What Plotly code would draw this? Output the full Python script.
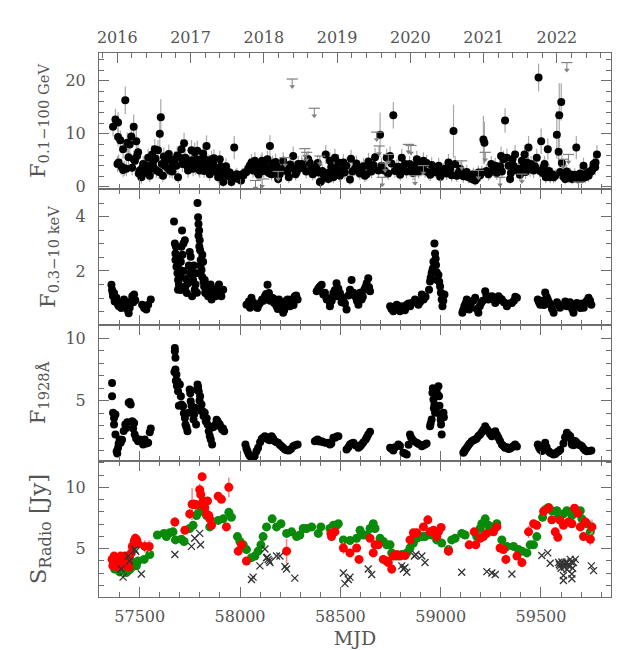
import plotly.graph_objects as go
from plotly.subplots import make_subplots

# ---------------- data ----------------
fermi_mjd = [
    57367, 57379, 57389, 57392, 57392, 57395, 57403, 57409, 57417, 57417,
    57423, 57428, 57433, 57438, 57444, 57450, 57458, 57462, 57470, 57470,
    57476, 57483, 57487, 57492, 57495, 57500, 57508, 57512, 57517, 57525,
    57533, 57538, 57542, 57550, 57555, 57562, 57566, 57570, 57575, 57579,
    57583, 57591, 57596, 57600, 57605, 57610, 57616, 57620, 57625, 57633,
    57640, 57645, 57650, 57658, 57662, 57666, 57675, 57683, 57687, 57691,
    57700, 57708, 57713, 57721, 57727, 57733, 57737, 57741, 57749, 57758,
    57762, 57766, 57770, 57774, 57778, 57783, 57787, 57791, 57795, 57799,
    57808, 57812, 57816, 57821, 57824, 57829, 57833, 57841, 57846, 57849,
    57853, 57858, 57862, 57866, 57870, 57874, 57882, 57891, 57896, 57899,
    57904, 57907, 57912, 57916, 57924, 57930, 57937, 57943, 57949, 57957,
    57964, 57971, 57977, 57984, 57991, 57999, 58005, 58011, 58017, 58024,
    58032, 58041, 58048, 58057, 58065, 58074, 58082, 58087, 58093, 58099,
    58105, 58110, 58118, 58124, 58130, 58137, 58143, 58149, 58157, 58162,
    58167, 58172, 58177, 58184, 58190, 58198, 58207, 58215, 58223, 58232,
    58237, 58243, 58250, 58265, 58270, 58277, 58283, 58290, 58297, 58307,
    58313, 58330, 58340, 58348, 58355, 58362, 58373, 58380, 58387, 58392,
    58398, 58403, 58410, 58415, 58423, 58427, 58435, 58440, 58448, 58455,
    58456, 58465, 58470, 58473, 58480, 58490, 58498, 58505, 58515, 58522,
    58530, 58548, 58553, 58560, 58573, 58580, 58590, 58597, 58606, 58615,
    58622, 58631, 58640, 58648, 58655, 58665, 58673, 58690, 58698, 58705,
    58719, 58731, 58738, 58748, 58755, 58764, 58772, 58781, 58790, 58798,
    58806, 58812, 58822, 58830, 58845, 58856, 58862, 58872, 58881, 58890,
    58898, 58906, 58914, 58922, 58930, 58939, 58948, 58955, 58964, 58972,
    58980, 58990, 58998, 59005, 59013, 59022, 59030, 59039, 59047, 59055,
    59064, 59072, 59080, 59088, 59097, 59105, 59113, 59122, 59130, 59138,
    59147, 59155, 59163, 59172, 59180, 59188, 59197, 59205, 59213, 59218,
    59228, 59238, 59245, 59252, 59262, 59272, 59280, 59288, 59296, 59301,
    59305, 59313, 59321, 59330, 59338, 59346, 59350, 59358, 59363, 59371,
    59380, 59388, 59395, 59405, 59412, 59418, 59423, 59430, 59438, 59445,
    59451, 59463, 59470, 59479, 59488, 59495, 59501, 59508, 59513, 59518,
    59524, 59534, 59540, 59546, 59556, 59563, 59571, 59579, 59588, 59591,
    59595, 59601, 59604, 59612, 59621, 59628, 59637, 59646, 59655, 59662,
    59668, 59676, 59680, 59687, 59695, 59701, 59705, 59712, 59721, 59728,
    59737, 59743, 59751, 59757, 59762, 59770, 59772, 59779,
]
fermi_flux = [
    11.3, 12.7, 4.3, 12.1, 9.4, 4.6, 8.8, 3.8, 7.1, 3.2,
    3.5, 16.3, 3.4, 8.3, 5.6, 8.0, 9.5, 3.6, 11.3, 5.2,
    4.9, 8.6, 5.8, 6.5, 2.5, 3.1, 1.8, 3.5, 4.3, 2.6,
    4.0, 3.1, 5.5, 2.1, 3.4, 6.1, 4.6, 3.6, 7.1, 5.3,
    3.1, 6.9, 2.8, 10.0, 13.1, 4.3, 2.1, 5.7, 4.0, 5.2,
    3.5, 6.2, 3.1, 4.9, 2.9, 4.0, 5.2, 4.0, 5.9, 1.8,
    5.5, 7.1, 4.3, 8.2, 5.5, 4.3, 3.9, 3.1, 4.9, 6.9,
    5.0, 3.4, 4.4, 6.5, 3.8, 5.2, 6.8, 4.3, 3.4, 3.1,
    5.2, 4.2, 6.3, 3.0, 5.2, 4.4, 7.7, 4.6, 3.6, 2.4,
    4.0, 5.2, 3.0, 4.3, 5.4, 3.4, 2.8, 1.8, 3.4, 5.2,
    3.9, 2.1, 2.5, 0.9, 2.7, 3.9, 2.9, 2.0, 2.7, 0.9,
    1.6, 7.4, 2.1, 2.4, 1.5, 1.8, 1.2, 2.4, 2.2, 2.7,
    2.8, 3.4, 4.0, 4.6, 3.1, 4.9, 3.6, 2.7, 2.3, 4.0,
    4.6, 4.9, 3.0, 4.3, 3.6, 5.2, 2.6, 7.7, 2.4, 4.4,
    3.4, 2.7, 4.7, 3.9, 1.5, 2.4, 3.2, 4.9, 3.6, 3.1,
    2.8, 1.8, 4.2, 5.8, 3.4, 2.4, 2.9, 4.3, 3.5, 4.3,
    3.9, 2.9, 5.2, 4.5, 3.6, 2.4, 2.7, 3.4, 4.5, 2.7,
    0.9, 1.0, 3.0, 2.4, 1.8, 6.1, 2.6, 1.5, 4.9, 3.8,
    2.1, 1.8, 2.9, 5.5, 3.4, 4.6, 2.1, 3.2, 4.6, 2.7,
    4.0, 1.4, 5.3, 2.9, 3.4, 4.4, 3.1, 2.5, 3.4, 3.9,
    2.1, 2.4, 4.8, 3.7, 2.9, 4.1, 5.6, 3.1, 9.8, 4.0,
    3.1, 5.5, 2.5, 5.8, 4.4, 13.5, 3.0, 3.7, 3.8, 2.3,
    5.5, 3.5, 4.3, 2.9, 4.3, 3.4, 2.6, 4.0, 5.2, 2.9,
    4.2, 3.4, 4.9, 3.0, 4.5, 2.7, 2.3, 4.1, 3.4, 3.1,
    2.7, 4.0, 1.9, 2.4, 3.1, 3.4, 2.5, 4.6, 3.3, 2.2,
    10.5, 4.3, 2.1, 2.6, 3.4, 2.7, 2.0, 2.4, 2.8, 1.8,
    1.9, 1.5, 2.4, 1.2, 1.6, 2.7, 2.2, 2.7, 8.9, 8.3,
    3.0, 2.4, 2.7, 4.3, 3.3, 4.0, 2.6, 3.1, 3.9, 5.8,
    2.9, 5.2, 12.5, 5.5, 4.0, 1.5, 2.6, 5.2, 4.0, 6.1,
    3.1, 3.4, 2.3, 4.9, 3.8, 6.1, 2.8, 4.6, 7.4, 3.3,
    4.3, 3.1, 3.9, 5.5, 20.6, 3.0, 8.6, 2.6, 3.7, 4.3,
    1.8, 7.1, 3.0, 1.8, 2.4, 1.8, 2.1, 9.8, 6.6, 13.5,
    2.8, 16.0, 4.5, 1.9, 1.5, 2.9, 1.8, 2.4, 1.5, 1.8,
    2.3, 7.4, 1.7, 1.5, 2.5, 1.8, 1.6, 4.0, 1.8, 2.6,
    2.1, 2.9, 2.9, 3.3, 4.3, 3.7, 4.6, 6.1,
]
fermi_err = [
    1.8, 2.0, 1.5, 2.0, 1.8, 1.5, 1.8, 1.5, 1.8, 1.4,
    1.4, 2.6, 1.4, 2.0, 1.6, 2.0, 2.2, 1.4, 2.3, 1.6,
    1.5, 2.2, 1.6, 1.8, 1.2, 1.4, 1.2, 1.4, 1.5, 1.3,
    1.5, 1.4, 1.7, 1.2, 1.4, 1.8, 1.6, 1.4, 1.9, 1.7,
    1.4, 1.9, 1.3, 2.6, 3.4, 1.5, 1.2, 1.7, 1.5, 1.6,
    1.4, 1.8, 1.4, 1.6, 1.3, 1.5, 1.6, 1.5, 1.7, 1.1,
    1.7, 1.9, 1.5, 2.0, 1.6, 1.5, 1.5, 1.4, 1.6, 1.9,
    1.6, 1.4, 1.5, 1.8, 1.5, 1.6, 1.9, 1.5, 1.4, 1.4,
    1.6, 1.5, 1.8, 1.3, 1.6, 1.5, 2.0, 1.6, 1.4, 1.3,
    1.5, 1.6, 1.3, 1.5, 1.7, 1.4, 1.3, 1.1, 1.4, 1.6,
    1.5, 1.2, 1.2, 0.9, 1.3, 1.5, 1.3, 1.2, 1.3, 0.9,
    1.1, 2.2, 1.2, 1.2, 1.0, 1.1, 1.0, 1.2, 1.2, 1.3,
    1.3, 1.4, 1.5, 1.6, 1.4, 1.6, 1.4, 1.3, 1.2, 1.5,
    1.6, 1.6, 1.3, 1.5, 1.4, 1.6, 1.3, 2.0, 1.2, 1.5,
    1.4, 1.3, 1.6, 1.5, 1.0, 1.2, 1.4, 1.6, 1.4, 1.4,
    1.3, 1.1, 1.5, 1.8, 1.4, 1.2, 1.3, 1.5, 1.4, 1.5,
    1.5, 1.3, 1.6, 1.5, 1.4, 1.2, 1.3, 1.4, 1.5, 1.3,
    0.9, 0.9, 1.3, 1.2, 1.1, 1.8, 1.3, 1.0, 1.6, 1.5,
    1.2, 1.1, 1.3, 1.7, 1.4, 1.6, 1.2, 1.4, 1.6, 1.3,
    1.5, 1.0, 1.7, 1.3, 1.4, 1.5, 1.4, 1.2, 1.4, 1.5,
    1.2, 1.2, 1.6, 1.5, 1.3, 1.5, 1.7, 1.4, 4.2, 1.5,
    1.4, 1.7, 1.2, 1.8, 1.5, 2.5, 1.3, 1.5, 1.5, 1.2,
    1.7, 1.4, 1.5, 1.3, 1.5, 1.4, 1.3, 1.5, 1.6, 1.3,
    1.5, 1.4, 1.6, 1.3, 1.5, 1.3, 1.2, 1.5, 1.4, 1.4,
    1.3, 1.5, 1.1, 1.2, 1.4, 1.4, 1.2, 1.6, 1.4, 1.2,
    5.0, 1.5, 1.2, 1.3, 1.4, 1.3, 1.2, 1.2, 1.3, 1.1,
    1.1, 1.0, 1.2, 1.0, 1.0, 1.3, 1.2, 1.3, 4.5, 4.0,
    1.3, 1.2, 1.3, 1.5, 1.4, 1.5, 1.3, 1.4, 1.5, 1.8,
    1.3, 1.6, 2.3, 1.7, 1.5, 1.0, 1.3, 1.6, 1.5, 1.8,
    1.4, 1.4, 1.2, 1.6, 1.5, 1.8, 1.3, 1.6, 2.2, 1.4,
    1.5, 1.4, 1.5, 1.7, 2.6, 1.3, 2.4, 1.3, 1.5, 1.5,
    1.1, 2.0, 1.3, 1.1, 1.2, 1.1, 1.2, 4.5, 2.5, 6.0,
    1.3, 3.5, 1.5, 1.1, 1.0, 1.3, 1.1, 1.2, 1.0, 1.1,
    1.2, 2.2, 1.1, 1.0, 1.2, 1.1, 1.0, 1.5, 1.1, 1.3,
    1.2, 1.3, 1.3, 1.4, 1.5, 1.5, 1.6, 1.8,
]

# Fermi upper limits
ul_mjd = [58077, 58110, 58190, 58224, 58260, 58323, 58332, 58370, 58398, 58681,
          58693, 58709, 58723, 58739, 58839, 58852, 58872, 58914, 59105, 59188,
          59222, 59296, 59405, 59612, 59629, 59637, 59687]
ul_flux = [1.2, 1.5, 2.9, 5.5, 20.3, 7.2, 6.5, 14.8, 5.8, 10.3,
           7.7, 1.8, 4.5, 6.1, 8.0, 7.8, 2.1, 4.0, 4.9, 3.1,
           6.5, 1.8, 2.4, 5.2, 23.4, 6.1, 0.9]

# X-ray 0.3-10 keV
xray_mjd = [
    57359, 57362, 57367, 57372, 57375, 57384, 57392, 57400, 57408, 57422,
    57428, 57438, 57445, 57455, 57463, 57472, 57478, 57512, 57522, 57533,
    57542, 57555, 57365, 57380, 57396, 57415, 57450, 57468,
    57671, 57675, 57678, 57678, 57683, 57688, 57691, 57691, 57700, 57705,
    57708, 57711, 57718, 57725, 57728, 57735, 57741, 57749, 57754, 57758,
    57761, 57766, 57774, 57781, 57788, 57791, 57793, 57796, 57799, 57801,
    57804, 57808, 57811, 57816, 57821, 57824, 57829, 57836, 57841, 57849,
    57858, 57866, 57878, 57891, 57899, 57907, 57916,
    57680, 57685, 57690, 57695, 57702, 57706, 57713, 57720, 57730, 57745,
    57752, 57770, 57778, 57785, 57793, 57797, 57803, 57812, 57818, 57826,
    57845, 57853, 57870, 57884, 57895, 57903,
    58032, 58044, 58057, 58074, 58087, 58099, 58110, 58124, 58137, 58144,
    58157, 58170, 58182, 58194, 58207, 58215, 58224, 58237, 58249, 58261,
    58273, 58287, 58050, 58065, 58092, 58117, 58130, 58150, 58165, 58188,
    58200, 58220, 58230, 58255, 58267, 58280,
    58382, 58398, 58407, 58415, 58431, 58432, 58448, 58448, 58465, 58481,
    58481, 58498, 58515, 58531, 58548, 58556, 58573, 58590, 58606, 58619,
    58631, 58639, 58648, 58390, 58423, 58440, 58457, 58473, 58490, 58506,
    58523, 58540, 58565, 58582, 58598, 58612, 58625, 58643,
    58748, 58764, 58781, 58797, 58814, 58831, 58856, 58872, 58889, 58906,
    58755, 58772, 58789, 58805, 58822, 58840, 58848, 58864, 58880, 58897,
    58915, 58925,
    58942, 58947, 58955, 58959, 58964, 58969, 58972, 58977, 58982, 58989,
    58997, 59005, 59009, 59019, 58950, 58962, 58975, 58980, 58993, 59001,
    59013,
    59108, 59118, 59130, 59142, 59155, 59172, 59188, 59202, 59222, 59238,
    59255, 59272, 59288, 59305, 59330, 59355, 59380, 59112, 59124, 59136,
    59148, 59163, 59180, 59195, 59210, 59228, 59246, 59262, 59280, 59296,
    59315, 59340, 59365, 59372,
    59484, 59496, 59521, 59534, 59546, 59563, 59588, 59621, 59637, 59662,
    59679, 59696, 59721, 59737, 59751, 59490, 59508, 59515, 59528, 59540,
    59555, 59580, 59595, 59628, 59645, 59655, 59670, 59688, 59705, 59713,
    59729, 59745,
]
xray_flux = [
    1.49, 1.31, 1.07, 1.19, 0.88, 1.01, 0.76, 0.82, 0.64, 0.95,
    0.76, 0.58, 0.44, 0.88, 1.07, 1.13, 0.92, 0.76, 0.64, 0.58,
    0.76, 0.95, 1.20, 0.95, 0.70, 0.75, 0.65, 0.85,
    3.82, 3.01, 2.64, 2.40, 2.16, 1.92, 1.67, 1.31, 2.04, 2.34,
    2.89, 3.49, 3.01, 3.13, 1.43, 1.19, 1.55, 2.70, 2.52, 2.04,
    1.07, 1.67, 1.31, 1.92, 4.50, 3.98, 3.73, 3.49, 3.13, 2.76,
    2.40, 2.04, 1.79, 2.34, 1.43, 1.67, 1.19, 1.43, 1.07, 1.31,
    0.95, 1.31, 1.07, 1.43, 1.25, 1.07, 1.31,
    2.90, 2.50, 2.20, 1.50, 1.80, 1.30, 2.60, 2.00, 1.70, 2.20,
    1.90, 2.20, 1.50, 1.20, 3.30, 2.90, 2.20, 2.60, 1.60, 1.20,
    1.20, 1.50, 1.10, 1.20, 1.50, 1.10,
    0.76, 0.88, 1.01, 0.70, 0.64, 0.82, 0.95, 1.07, 1.49, 1.19,
    1.01, 0.82, 0.70, 0.95, 0.64, 0.46, 0.76, 0.95, 0.70, 0.82,
    1.07, 0.95, 0.65, 0.85, 0.75, 0.90, 1.15, 0.90, 1.00, 0.60,
    0.85, 0.55, 0.90, 0.95, 0.75, 1.10,
    1.25, 1.43, 1.49, 1.13, 1.01, 0.95, 0.82, 0.70, 1.19, 1.07,
    1.55, 1.19, 1.01, 0.58, 1.31, 1.67, 1.07, 0.76, 0.95, 1.31,
    1.55, 1.73, 1.25, 1.35, 1.20, 1.00, 0.90, 1.30, 1.35, 0.85,
    0.80, 1.10, 1.20, 0.90, 1.20, 1.05, 1.40, 1.40,
    0.70, 0.52, 0.76, 0.52, 0.64, 0.76, 0.82, 0.95, 0.76, 1.13,
    0.60, 0.65, 0.60, 0.70, 0.55, 0.80, 0.70, 0.85, 0.90, 0.85,
    0.95, 1.05,
    1.31, 1.61, 1.92, 2.04, 2.34, 3.01, 2.64, 2.22, 1.67, 1.85,
    1.43, 0.95, 0.70, 1.13, 1.75, 2.10, 2.45, 1.95, 1.60, 1.20,
    0.90,
    0.46, 0.70, 0.95, 0.58, 0.88, 1.01, 0.46, 0.82, 1.25, 0.95,
    1.07, 0.82, 1.07, 0.95, 0.70, 0.82, 1.01, 0.55, 0.80, 0.65,
    0.75, 0.90, 0.60, 0.70, 0.90, 1.10, 1.00, 0.95, 0.90, 1.00,
    0.85, 0.80, 0.90, 1.05,
    0.95, 0.76, 1.21, 0.95, 0.76, 0.46, 0.76, 0.88, 0.76, 0.46,
    0.82, 0.64, 0.82, 1.01, 0.76, 0.85, 0.90, 0.75, 1.05, 0.85,
    0.60, 0.85, 0.65, 0.70, 0.85, 0.60, 0.75, 0.70, 0.80, 0.65,
    0.90, 0.90,
]

# UV 1928 A
uv_mjd = [
    57362, 57362, 57367, 57372, 57372, 57379, 57379, 57385, 57392, 57400,
    57405, 57428, 57433, 57445, 57455, 57463, 57472, 57475, 57492, 57500,
    57517, 57525, 57542, 57555, 57388, 57395, 57412, 57420, 57438, 57450,
    57467, 57482, 57508, 57533, 57550,
    57675, 57675, 57678, 57678, 57683, 57688, 57691, 57700, 57705, 57708,
    57716, 57725, 57728, 57738, 57744, 57749, 57754, 57761, 57768, 57774,
    57781, 57788, 57794, 57801, 57808, 57814, 57824, 57829, 57838, 57844,
    57854, 57861, 57878, 57888, 57899, 57911, 57921,
    57673, 57680, 57685, 57695, 57712, 57720, 57733, 57752, 57758, 57771,
    57785, 57791, 57798, 57805, 57818, 57834, 57849, 57866, 57872, 57883,
    57894, 57905, 57915,
    58027, 58037, 58049, 58065, 58082, 58090, 58115, 58124, 58140, 58157,
    58174, 58190, 58207, 58224, 58243, 58265, 58287, 58032, 58043, 58057,
    58073, 58100, 58108, 58132, 58148, 58165, 58182, 58198, 58215, 58233,
    58254, 58275,
    58373, 58387, 58406, 58426, 58440, 58448, 58465, 58473, 58490, 58531,
    58548, 58565, 58590, 58606, 58626, 58639, 58648, 58380, 58395, 58415,
    58455, 58482, 58540, 58556, 58575, 58598, 58615, 58632,
    58748, 58764, 58789, 58814, 58831, 58847, 58859, 58881, 58906, 58922,
    58756, 58772, 58797, 58822, 58840, 58852, 58866, 58890, 58914, 58930,
    58947, 58955, 58959, 58964, 58969, 58972, 58980, 58989, 58992, 58997,
    59002, 59005, 59014, 58950, 58961, 58966, 58976, 58985, 58994, 59000,
    59008, 59016,
    59113, 59130, 59155, 59172, 59197, 59222, 59238, 59255, 59272, 59288,
    59305, 59321, 59346, 59371, 59118, 59122, 59138, 59145, 59163, 59180,
    59188, 59205, 59213, 59230, 59246, 59263, 59280, 59296, 59313, 59330,
    59338, 59355, 59363, 59380,
    59484, 59496, 59521, 59538, 59563, 59588, 59629, 59646, 59654, 59679,
    59704, 59729, 59751, 59490, 59505, 59512, 59528, 59546, 59555, 59571,
    59580, 59596, 59612, 59620, 59637, 59650, 59662, 59670, 59688, 59696,
    59712, 59720, 59740,
]
uv_flux = [
    6.43, 5.37, 4.04, 3.64, 3.11, 3.91, 2.31, 0.98, 1.25, 1.91,
    1.65, 3.11, 2.84, 4.84, 4.70, 3.38, 3.24, 2.31, 1.78, 1.91,
    1.52, 1.91, 1.65, 2.79, 0.80, 1.60, 1.90, 2.60, 3.30, 4.90,
    2.80, 2.00, 1.75, 1.60, 2.50,
    9.22, 8.96, 8.43, 7.50, 7.10, 6.57, 5.77, 6.30, 5.37, 4.71,
    4.57, 3.64, 3.11, 2.58, 4.04, 5.90, 4.97, 4.17, 3.51, 4.44,
    3.11, 6.30, 5.77, 5.37, 4.71, 4.17, 4.04, 3.38, 3.11, 2.58,
    1.91, 1.52, 3.11, 3.38, 3.11, 2.71, 2.58,
    7.30, 6.60, 6.20, 4.60, 4.60, 4.00, 2.90, 5.60, 4.60, 3.90,
    5.90, 6.10, 5.00, 4.20, 3.80, 3.60, 2.20, 2.90, 3.00, 3.50,
    3.20, 2.90, 2.80,
    1.52, 0.98, 0.59, 0.45, 0.98, 1.25, 2.05, 2.18, 1.91, 2.18,
    1.78, 1.65, 1.38, 1.12, 1.04, 1.38, 1.52, 1.20, 0.75, 0.50,
    0.60, 1.70, 1.95, 2.10, 1.85, 2.00, 1.70, 1.50, 1.25, 1.05,
    1.15, 1.45,
    1.78, 1.91, 1.78, 1.65, 1.65, 1.52, 2.05, 2.05, 2.18, 1.12,
    1.52, 1.65, 1.25, 1.52, 1.91, 2.31, 2.53, 1.85, 1.75, 1.70,
    1.60, 2.15, 1.30, 1.60, 1.45, 1.35, 1.70, 2.10,
    1.25, 1.04, 1.52, 0.85, 0.72, 2.31, 1.91, 1.65, 1.38, 1.52,
    1.15, 1.30, 1.40, 0.80, 1.50, 2.10, 1.80, 1.55, 1.45, 1.60,
    2.98, 3.51, 5.64, 5.10, 4.71, 4.04, 5.90, 6.17, 5.37, 3.91,
    3.11, 2.31, 4.04, 3.20, 6.00, 4.40, 4.30, 5.50, 4.60, 3.50,
    3.90, 3.70,
    0.85, 1.25, 1.78, 1.91, 2.31, 2.98, 2.58, 2.18, 2.58, 2.05,
    1.52, 1.25, 1.20, 1.52, 0.95, 1.10, 1.45, 1.60, 1.85, 2.00,
    2.20, 2.50, 2.70, 2.75, 2.35, 2.40, 2.30, 1.80, 1.40, 1.30,
    1.15, 1.30, 1.40, 1.35,
    1.52, 1.12, 1.65, 0.98, 0.72, 0.98, 2.45, 2.18, 1.52, 1.65,
    1.38, 0.98, 1.04, 1.30, 1.00, 1.40, 1.30, 0.85, 0.80, 0.75,
    0.90, 1.10, 1.60, 2.10, 2.30, 1.90, 1.45, 1.80, 1.50, 1.45,
    1.20, 1.05, 1.00,
]

# Radio: red series (with errors), green series, black crosses
red_mjd = [
    57362, 57366, 57372, 57379, 57382, 57389, 57392, 57395, 57400, 57405,
    57412, 57416, 57422, 57428, 57433, 57437, 57442, 57446, 57450, 57458,
    57463, 57472, 57478, 57485, 57492, 57525, 57547, 57675, 57725, 57749,
    57761, 57771, 57783, 57799, 57804, 57811, 57816, 57824, 57833, 57838,
    57844, 57849, 57858, 57891, 57907, 57932, 57944, 57991, 58007, 58032,
    58232, 58453, 58456, 58473, 58515, 58548, 58581, 58593, 58648, 58664,
    58673, 58689, 58714, 58731, 58739, 58756, 58764, 58781, 58797, 58822,
    58847, 58864, 58881, 58914, 58936, 58947, 58964, 58980, 58989, 59002,
    59039, 59142, 59167, 59175, 59197, 59213, 59230, 59263, 59280, 59296,
    59313, 59325, 59380, 59405, 59438, 59463, 59479, 59513, 59538, 59554,
    59571, 59584, 59596, 59612, 59637, 59654, 59667, 59684, 59696, 59712,
    59721, 59746, 59754,
]
red_flux = [
    4.12, 3.60, 4.39, 3.86, 4.30, 4.26, 3.50, 3.99, 4.00, 4.39,
    3.91, 3.70, 4.12, 4.39, 3.59, 4.20, 3.86, 3.50, 4.39, 4.65,
    5.18, 5.58, 5.84, 5.71, 5.39, 5.18, 5.18, 7.17, 6.50, 7.83,
    8.62, 8.62, 8.57, 9.81, 9.42, 10.87, 8.89, 8.36, 7.83, 8.89,
    7.70, 7.43, 6.90, 9.28, 9.02, 6.77, 10.00, 4.79, 5.31, 3.99,
    4.79, 6.24, 5.98, 6.37, 5.05, 4.65, 5.05, 4.12, 5.84, 4.65,
    5.31, 5.31, 4.12, 3.99, 3.86, 3.33, 4.39, 4.52, 4.39, 4.44,
    5.71, 6.29, 6.29, 6.77, 7.35, 6.37, 6.50, 5.98, 6.37, 6.72,
    4.79, 5.31, 6.37, 5.31, 5.84, 5.98, 6.24, 6.37, 6.77, 5.05,
    4.92, 4.12, 4.39, 3.86, 6.37, 7.03, 6.90, 8.04, 8.30, 7.35,
    6.37, 5.92, 7.30, 6.90, 7.17, 7.03, 8.30, 7.88, 6.77, 5.98,
    7.17, 5.76, 6.77,
]
red_err = [
    0.2, 0.2, 0.2, 0.2, 0.2, 0.2, 0.2, 0.2, 0.2, 0.2,
    0.2, 0.2, 0.2, 0.2, 0.2, 0.2, 0.2, 0.2, 0.3, 0.3,
    0.3, 0.3, 0.4, 0.3, 0.3, 0.5, 0.5, 0.4, 0.3, 0.4,
    1.3, 0.4, 0.4, 0.5, 0.4, 0.3, 0.4, 0.3, 0.3, 0.3,
    0.3, 0.3, 0.3, 0.3, 0.3, 0.3, 0.8, 0.3, 0.3, 0.3,
    1.0, 0.4, 0.3, 0.3, 0.5, 0.3, 0.3, 0.3, 0.3, 0.3,
    0.3, 0.3, 0.3, 0.3, 0.3, 0.4, 0.3, 0.3, 0.3, 0.3,
    0.3, 0.3, 0.3, 0.3, 0.3, 0.3, 0.3, 0.3, 0.3, 0.3,
    0.4, 0.3, 0.3, 0.3, 0.3, 0.3, 0.3, 0.3, 0.3, 0.3,
    0.3, 0.4, 0.3, 0.3, 0.5, 0.3, 0.3, 0.4, 0.3, 0.3,
    0.3, 0.3, 0.3, 0.3, 0.3, 0.3, 0.3, 0.3, 0.3, 0.3,
    0.3, 0.5, 0.6,
]
green_mjd = [
    57375, 57392, 57408, 57425, 57442, 57458, 57475, 57492, 57522, 57550,
    57588, 57621, 57633, 57650, 57666, 57678, 57708, 57721, 57749, 57766,
    57783, 57794, 57808, 57821, 57833, 57849, 57891, 57916, 57944, 57957,
    57987, 57999, 58016, 58032, 58057, 58074, 58090, 58104, 58115, 58132,
    58160, 58182, 58204, 58232, 58257, 58282, 58298, 58315, 58332, 58357,
    58390, 58403, 58448, 58456, 58465, 58481, 58490, 58515, 58548, 58581,
    58598, 58614, 58631, 58648, 58664, 58673, 58698, 58714, 58731, 58748,
    58756, 58781, 58806, 58831, 58847, 58864, 58881, 58906, 58922, 58955,
    58980, 59005, 59039, 59055, 59072, 59105, 59122, 59180, 59197, 59205,
    59222, 59238, 59255, 59280, 59305, 59330, 59363, 59388, 59405, 59430,
    59446, 59463, 59479, 59508, 59524, 59538, 59554, 59579, 59588, 59612,
    59629, 59654, 59671, 59696, 59704, 59729, 59746,
    57383, 57400, 57417, 57433, 57450, 57466, 57483,
]
green_flux = [
    3.33, 3.28, 3.20, 3.33, 3.20, 3.46, 3.86, 3.99, 4.12, 4.52,
    6.11, 6.24, 5.98, 6.29, 6.37, 5.71, 5.76, 5.58, 6.64, 6.90,
    7.70, 7.96, 8.22, 8.36, 7.70, 6.77, 7.30, 7.43, 7.96, 7.56,
    5.98, 5.58, 5.31, 4.92, 4.26, 4.39, 4.79, 5.31, 5.98, 6.77,
    7.43, 6.77, 7.03, 6.24, 6.37, 5.98, 6.11, 6.64, 6.64, 6.77,
    6.24, 6.77, 6.64, 6.50, 6.90, 6.90, 7.03, 5.71, 5.66, 5.84,
    6.50, 6.11, 6.11, 6.64, 7.03, 6.64, 5.84, 5.58, 5.31, 5.31,
    4.65, 4.39, 4.52, 4.65, 5.05, 5.45, 5.84, 5.98, 5.98, 6.11,
    5.71, 5.45, 4.92, 5.71, 5.84, 6.24, 6.11, 5.98, 6.64, 7.03,
    7.43, 6.90, 6.77, 7.03, 5.71, 5.18, 5.18, 4.92, 4.79, 4.65,
    5.31, 5.31, 5.98, 7.56, 8.22, 8.36, 8.09, 8.09, 7.70, 7.83,
    8.09, 7.70, 7.96, 8.09, 7.43, 7.03, 6.37,
    3.45, 3.10, 3.40, 3.05, 3.30, 3.70, 3.60,
]
cross_mjd = [
    57408, 57417, 57442, 57450, 57475, 57480, 57508, 57675, 57758, 57774,
    57799, 57803, 58057, 58065, 58099, 58124, 58132, 58140, 58149, 58182,
    58199, 58224, 58232, 58273, 58515, 58523, 58540, 58548, 58639, 58656,
    58806, 58814, 58822, 58831, 58869, 58876, 58906, 58922, 59105, 59230,
    59255, 59272, 59355, 59504, 59534, 59546, 59588, 59596, 59604, 59612,
    59612, 59621, 59637, 59646, 59654, 59654, 59662, 59671, 59751, 59762,
    59592, 59600, 59608, 59616, 59625, 59630, 59641, 59650, 59658, 58135,
    58145,
]
cross_flux = [
    3.33, 2.67, 4.39, 3.99, 4.92, 4.79, 2.93, 4.52, 5.18, 5.84,
    6.24, 5.31, 2.48, 2.67, 3.59, 4.97, 4.26, 4.12, 3.86, 4.39,
    4.39, 3.54, 3.33, 2.59, 3.01, 2.14, 2.48, 2.67, 3.33, 2.88,
    3.59, 3.33, 3.46, 3.07, 4.39, 4.52, 4.39, 3.86, 3.07, 3.12,
    3.01, 2.88, 2.93, 4.44, 4.65, 3.81, 3.86, 3.59, 3.91, 2.80,
    2.40, 3.72, 3.59, 4.12, 2.93, 2.54, 3.86, 4.12, 3.59, 3.20,
    3.70, 3.40, 3.80, 3.50, 3.90, 3.30, 3.70, 3.90, 3.40, 4.30,
    4.00,
]

# ---------------- style ----------------
AX = '#6e6e6e'
TXT = '#555555'
ULC = '#808080'
FONT = 'DejaVu Serif'
XR = [57297, 59849]
MJD_2016 = 57388          # MJD of 2016 Jan 1, for the calendar axis on top
YEAR_DAYS = 365.25
UL_SHAFT = 1.4            # drawn length of the upper-limit arrow, in flux units

fig = make_subplots(rows=4, cols=1, shared_xaxes=True, vertical_spacing=0)

fig.add_trace(go.Scatter(
    x=fermi_mjd, y=fermi_flux, mode='markers',
    marker=dict(color='black', size=8),
    error_y=dict(type='data', array=fermi_err, color='#a8a8a8', thickness=1.2, width=0),
    showlegend=False, hoverinfo='skip'), row=1, col=1)
# upper limits: bar + shaft + arrowhead
fig.add_trace(go.Scatter(
    x=ul_mjd, y=ul_flux, mode='markers',
    marker=dict(symbol='line-ew-open', size=8, color=ULC, line=dict(color=ULC, width=1.2)),
    error_y=dict(type='data', symmetric=False, array=[0] * len(ul_flux),
                 arrayminus=[UL_SHAFT] * len(ul_flux), color=ULC, thickness=1, width=0),
    showlegend=False, hoverinfo='skip'), row=1, col=1)
fig.add_trace(go.Scatter(
    x=ul_mjd, y=[v - UL_SHAFT for v in ul_flux], mode='markers',
    marker=dict(symbol='triangle-down', size=5, color=ULC),
    showlegend=False, hoverinfo='skip'), row=1, col=1)

fig.add_trace(go.Scatter(
    x=xray_mjd, y=xray_flux, mode='markers', marker=dict(color='black', size=8),
    showlegend=False, hoverinfo='skip'), row=2, col=1)

fig.add_trace(go.Scatter(
    x=uv_mjd, y=uv_flux, mode='markers', marker=dict(color='black', size=8),
    showlegend=False, hoverinfo='skip'), row=3, col=1)

fig.add_trace(go.Scatter(
    x=green_mjd, y=green_flux, mode='markers', marker=dict(color='#0a8a0a', size=9),
    showlegend=False, hoverinfo='skip'), row=4, col=1)
fig.add_trace(go.Scatter(
    x=red_mjd, y=red_flux, mode='markers', marker=dict(color='#ff0000', size=9),
    error_y=dict(type='data', array=red_err, color='#ff8080', thickness=1.5, width=0),
    showlegend=False, hoverinfo='skip'), row=4, col=1)
fig.add_trace(go.Scatter(
    x=cross_mjd, y=cross_flux, mode='markers',
    marker=dict(symbol='x-thin-open', size=7, color='#333333',
                line=dict(color='#333333', width=1.3)),
    showlegend=False, hoverinfo='skip'), row=4, col=1)

tickfont = dict(family=FONT, size=16, color=TXT)
xcommon = dict(range=XR, showline=True, linecolor=AX, linewidth=1,
               ticks='inside', ticklen=10, tickwidth=1, tickcolor=AX,
               tick0=57500, dtick=500, tickformat='d',
               minor=dict(ticks='inside', ticklen=5, tickcolor=AX, tick0=57500, dtick=100),
               showgrid=False, zeroline=False, tickfont=tickfont)
for r in range(1, 5):
    fig.update_xaxes(xcommon, row=r, col=1)
fig.update_xaxes(mirror=True, row=1, col=1)
for r in (2, 3, 4):
    fig.update_xaxes(mirror='ticks', row=r, col=1)
fig.update_xaxes(ticklabelstandoff=5,
                 title=dict(text='MJD', font=dict(family=FONT, size=19, color=TXT), standoff=6),
                 row=4, col=1)

ycommon = dict(showline=True, linecolor=AX, linewidth=1, mirror='ticks',
               ticks='inside', ticklen=10, tickwidth=1, tickcolor=AX,
               showgrid=False, zeroline=False, tickfont=tickfont, ticklabelstandoff=9)
ytitle_font = dict(family=FONT, size=21, color=TXT)
fig.update_yaxes(ycommon, range=[-0.4, 25.2], tick0=0, dtick=10,
                 minor=dict(ticks='inside', ticklen=5, tickcolor=AX, tick0=0, dtick=2),
                 title=dict(text='F<sub>0.1−100 GeV</sub>', font=ytitle_font, standoff=14),
                 row=1, col=1)
fig.update_yaxes(ycommon, range=[0.01, 5.02], tick0=0, dtick=2,
                 minor=dict(ticks='inside', ticklen=5, tickcolor=AX, tick0=0, dtick=0.5),
                 title=dict(text='F<sub>0.3−10 keV</sub>', font=ytitle_font, standoff=14),
                 row=2, col=1)
fig.update_yaxes(ycommon, range=[0.2, 11.05], tick0=0, dtick=5,
                 minor=dict(ticks='inside', ticklen=5, tickcolor=AX, tick0=0, dtick=1),
                 title=dict(text='F<sub>1928Å</sub>', font=ytitle_font, standoff=14),
                 row=3, col=1)
fig.update_yaxes(ycommon, range=[1.05, 12.15], tick0=0, dtick=5,
                 minor=dict(ticks='inside', ticklen=5, tickcolor=AX, tick0=0, dtick=1),
                 title=dict(text='S<sub>Radio</sub> [Jy]', font=dict(family=FONT, size=23, color=TXT), standoff=12),
                 row=4, col=1)

# calendar-year axis along the top of the first panel
yr_range = [2016 + (XR[0] - MJD_2016) / YEAR_DAYS, 2016 + (XR[1] - MJD_2016) / YEAR_DAYS]
fig.update_layout(xaxis5=dict(
    overlaying='x', anchor='y', side='top', range=yr_range,
    tick0=2016, dtick=1, tickformat='d',
    ticks='inside', ticklen=10, tickwidth=1, tickcolor=AX,
    minor=dict(ticks='inside', ticklen=5, tickcolor=AX, tick0=2016, dtick=0.2),
    showline=True, linecolor=AX, linewidth=1, showgrid=False, zeroline=False,
    tickfont=dict(family=FONT, size=16, color=TXT), ticklabelstandoff=3))
fig.add_trace(go.Scatter(x=[2016, 2017], y=[-10, -10], xaxis='x5', yaxis='y',
                         mode='markers', marker=dict(opacity=0),
                         showlegend=False, hoverinfo='skip'))

fig.update_layout(width=628, height=650,
                  margin=dict(l=91, r=25, t=45, b=53),
                  paper_bgcolor='white', plot_bgcolor='white')

fig.write_html("out.html")
